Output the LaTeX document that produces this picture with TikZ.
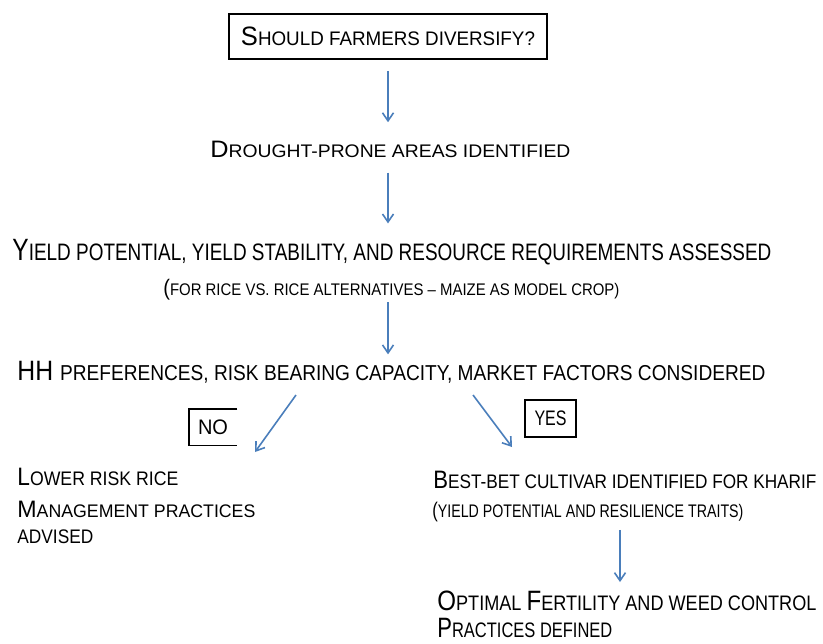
\documentclass[tikz,border=0pt]{standalone}
\usepackage{fontspec}
\setmainfont{Liberation Sans}
\usepackage{graphicx}
\usetikzlibrary{arrows.meta}
\definecolor{flowblue}{RGB}{74,126,187}
\newcommand{\fsz}[1]{\fontsize{#1pt}{#1pt}\selectfont}
\newcommand{\sqz}[2]{\resizebox{#1}{\height}{#2}}
\tikzstyle{txt}=[inner sep=0pt, anchor=base west]
\tikzstyle{flow}=[draw=flowblue, line width=.8pt,
  -{Straight Barb[length=4pt,width=5.5pt]}]
\tikzstyle{frame}=[draw, line width=.9pt, inner sep=0pt]

\begin{document}
\begin{tikzpicture}[x=.5pt, y=-.5pt]
  \useasboundingbox (0,0) rectangle (823,643);
  \coordinate (mid) at (388,0);
  \coordinate (right) at (620,0);

  \node[frame, minimum width=159pt, minimum height=22.5pt] (q) at (388,36.5)
    {\sqz{147pt}{\fsz{13.3}S\fsz{9.8}HOULD FARMERS DIVERSIFY?}};
  \node[txt] (drought) at (210,157)
    {\sqz{180pt}{\fsz{11.9}D\fsz{9.1}ROUGHT-PRONE AREAS IDENTIFIED}};
  \node[txt] (yield) at (12,260)
    {\sqz{379.5pt}{\fsz{15.4}Y\fsz{11.9}IELD POTENTIAL, YIELD STABILITY, AND RESOURCE REQUIREMENTS ASSESSED}};
  \node[txt] (alt) at (163,295)
    {\sqz{228pt}{\fsz{11.2}(\fsz{8.4}FOR RICE VS. RICE ALTERNATIVES – MAIZE AS MODEL CROP)}};
  \node[txt] (hh) at (17,380)
    {\sqz{374pt}{\fsz{14}HH \fsz{10.8}PREFERENCES, RISK BEARING CAPACITY, MARKET FACTORS CONSIDERED}};

  \node[inner sep=0pt, minimum width=24pt, minimum height=18pt] (no) at (213,427)
    {\sqz{15pt}{\fsz{10.5}NO}};
  \draw[line width=.9pt] (no.north east) -- (no.north west) -- (no.south west) -- (no.south east);
  \node[frame, minimum width=25.5pt, minimum height=18.5pt] (yes) at (550.5,418.5)
    {\sqz{16pt}{\fsz{10.5}YES}};

  \node[txt] (lower) at (17,485) {\sqz{80.5pt}{\fsz{12.6}L\fsz{9.8}OWER RISK RICE}};
  \node[txt] (mgmt) at (17,517) {\sqz{119pt}{\fsz{11.9}M\fsz{9.1}ANAGEMENT PRACTICES}};
  \node[txt] (advised) at (17,543) {\sqz{38pt}{\fsz{9.8}ADVISED}};

  \node[txt] (best) at (433,488)
    {\sqz{191.5pt}{\fsz{12.6}B\fsz{9.8}EST-BET CULTIVAR IDENTIFIED FOR KHARIF}};
  \node[txt] (traits) at (432,517)
    {\sqz{155.5pt}{\fsz{10.6}(\fsz{9.1}YIELD POTENTIAL AND RESILIENCE TRAITS)}};
  \node[txt] (optimal) at (437,610)
    {\sqz{189.5pt}{\fsz{14}O\fsz{10.5}PTIMAL \fsz{14}F\fsz{10.5}ERTILITY AND WEED CONTROL}};
  \node[txt] (practices) at (437,637)
    {\sqz{87.5pt}{\fsz{14}P\fsz{10.5}RACTICES DEFINED}};

  \coordinate (noFrom) at (296,395);
  \coordinate (noTo) at (255,452);
  \coordinate (yesFrom) at (473,395);
  \coordinate (yesTo) at (512,447);

  \draw[flow, shorten <=5.5pt, shorten >=9pt] (q.south) -- (mid |- drought.north);
  \draw[flow, shorten <=7.5pt, shorten >=7.5pt] (mid |- drought.south) -- (mid |- yield.north);
  \draw[flow, shorten <=1pt, shorten >=3pt] (mid |- alt.south) -- (mid |- hh.north);
  \draw[flow] (noFrom) -- (noTo);
  \draw[flow] (yesFrom) -- (yesTo);
  \draw[flow, shorten <=4pt, shorten >=4pt] (right |- traits.south) -- (right |- optimal.north);
\end{tikzpicture}
\end{document}
